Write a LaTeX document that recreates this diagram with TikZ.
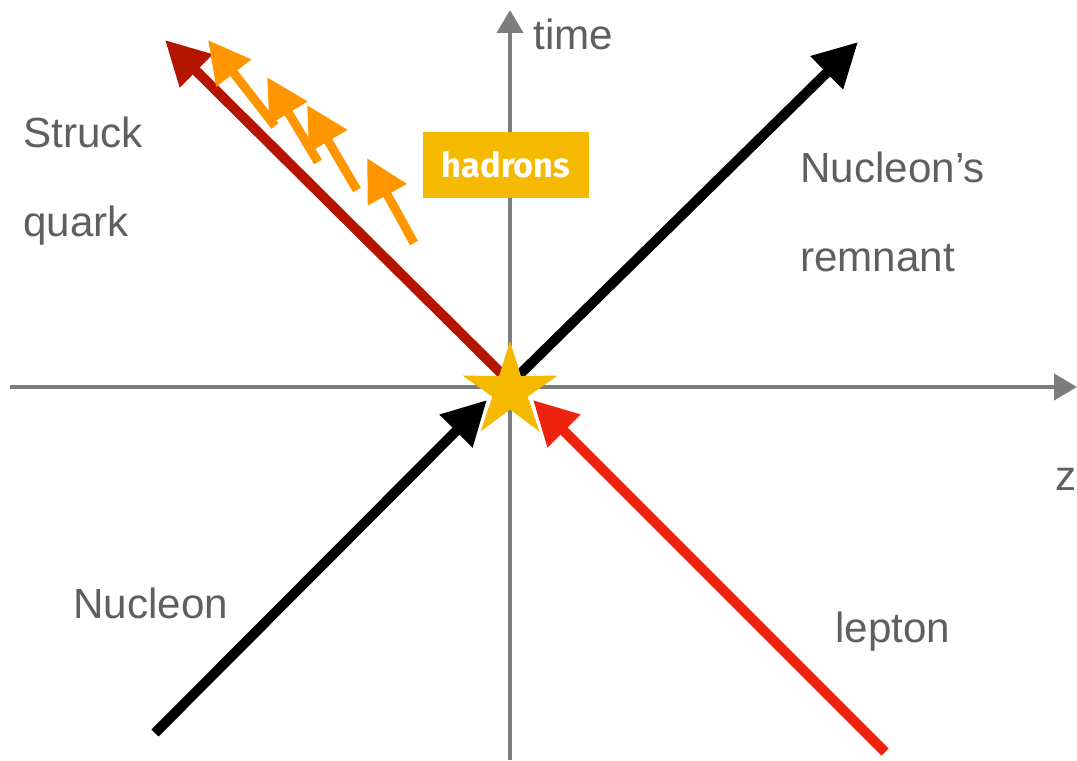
\documentclass[tikz,border=0pt]{standalone}
\usepackage{fontspec}
\setmainfont{Liberation Sans}
\newfontfamily\dinfont{Fira Sans}
\usetikzlibrary{arrows.meta,shapes.geometric}
\definecolor{axisgray}{RGB}{125,125,125}
\definecolor{textgray}{RGB}{95,95,95}
\definecolor{quarkred}{RGB}{180,20,0}
\definecolor{leptonred}{RGB}{238,35,15}
\definecolor{hadronorange}{RGB}{255,150,0}
\definecolor{stargold}{RGB}{245,185,0}
\tikzset{
  axisline/.style={
    line width = 0.08cm,
    axisgray,
    -{Triangle[length=0.46cm,width=0.52cm]}
  },
  particle/.style={
    line width = 0.2cm,
    -{Triangle[length=0.88cm,width=0.88cm]}
  },
  hadron/.style={
    line width = 0.18cm,
    hadronorange,
    -{Triangle[length=0.84cm,width=0.84cm]}
  },
  lbl/.style={
    anchor = base west,
    inner sep = 0pt,
    text = textgray,
    font = \fontsize{24}{28}\selectfont
  },
  hbox/.style={
    fill = stargold,
    text = white,
    inner sep = 0pt,
    minimum width = 3.32cm,
    minimum height = 1.32cm,
    font = \dinfont\bfseries\fontsize{19.5}{22}\selectfont
  }
}
\begin{document}
\begin{tikzpicture}[x=0.02cm, y=-0.02cm]
    \useasboundingbox (0,0) rectangle (1077,760);
    % axes
    \coordinate (zL) at (10,387);
    \coordinate (zR) at (1077,387);
    \coordinate (tB) at (510,760);
    \coordinate (tT) at (510,10);
    \draw[axisline] (zL) -- (zR);
    \draw[axisline] (tB) -- (tT);
    % outgoing
    \coordinate (quarkA) at (508,380);
    \coordinate (quarkB) at (165,40);
    \coordinate (remnA) at (514,380);
    \coordinate (remnB) at (858,42);
    \draw[particle, quarkred] (quarkA) -- (quarkB);
    \draw[particle, black] (remnA) -- (remnB);
    % hadrons
    \coordinate (h1A) at (275,126);
    \coordinate (h1B) at (208,40);
    \coordinate (h2A) at (318,162);
    \coordinate (h2B) at (267,77);
    \coordinate (h3A) at (357,190);
    \coordinate (h3B) at (307,105);
    \coordinate (h4A) at (414,243);
    \coordinate (h4B) at (367,158);
    \draw[hadron] (h1A) -- (h1B);
    \draw[hadron] (h2A) -- (h2B);
    \draw[hadron] (h3A) -- (h3B);
    \draw[hadron] (h4A) -- (h4B);
    \node[hbox] (hadrons) at (506,165) {hadrons};
    % vertex
    \node[star, star points=5, star point ratio=2.7, fill=stargold,
          minimum size=2cm, inner sep=0pt] (vertex) at (510,391) {};
    % incoming
    \coordinate (nuclA) at (155,733);
    \coordinate (nuclB) at (487,400);
    \coordinate (leptA) at (885,752);
    \coordinate (leptB) at (533,400);
    \draw[particle, black] (nuclA) -- (nuclB);
    \draw[particle, leptonred] (leptA) -- (leptB);
    % labels
    \node[lbl] (struck) at (23,148) {Struck};
    \node[lbl] (quark) at (23,236) {quark};
    \node[lbl] (nucleons) at (800,182) {Nucleon’s};
    \node[lbl] (remnant) at (800,271) {remnant};
    \node[lbl] (nucleon) at (73,618) {Nucleon};
    \node[lbl] (lepton) at (835,642) {lepton};
    \node[lbl] (time) at (533,50) {time};
    \node[lbl] (z) at (1055,490) {z};
\end{tikzpicture}
\end{document}
